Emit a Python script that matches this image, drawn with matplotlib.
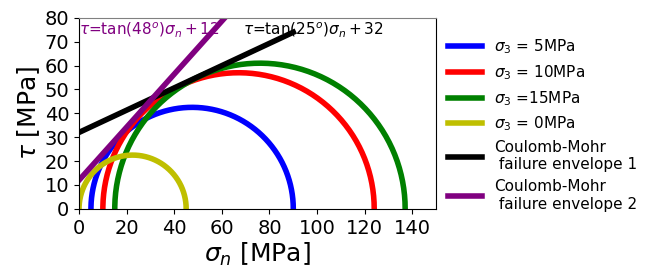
import numpy as np
import matplotlib.pyplot as plt

# confining / major principal stresses [MPa]
sigma3 = [5, 10, 15, 0]
sigma1 = [90, 124, 137, 45]
labels = ['$\\sigma_3$ = 5MPa', '$\\sigma_3$ = 10MPa', '$\\sigma_3$ =15MPa', '$\\sigma_3$ = 0MPa']
colors = ['b', 'r', 'g', 'y']

# Coulomb-Mohr envelopes: angle [deg], cohesion [MPa]
phi = [25, 48]
cohesion = [32, 12]
env_colors = ['k', 'purple']
env_labels = ['Coulomb-Mohr\n failure envelope 1', 'Coulomb-Mohr\n failure envelope 2']

fig = plt.figure(figsize=(6.48, 2.66), dpi=100)
ax = fig.add_axes([0.122, 0.215, 0.551, 0.718])

t = np.linspace(0, np.pi, 200)
for s3, s1, c, lab in zip(sigma3, sigma1, colors, labels):
    cen = (s1 + s3) / 2
    r = (s1 - s3) / 2
    ax.plot(cen + r * np.cos(t), r * np.sin(t), color=c, lw=4, label=lab)

sn = np.linspace(0, 90, 50)
for p, c0, c, lab in zip(phi, cohesion, env_colors, env_labels):
    ax.plot(sn, np.tan(np.radians(p)) * sn + c0, color=c, lw=4, label=lab)

ax.text(0, 73, '$\\tau$=tan(48$^o$)$\\sigma_n + 12$', color='purple', fontsize=11)
ax.text(69, 73, '$\\tau$=tan(25$^o$)$\\sigma_n + 32$', color='k', fontsize=11)

ax.set_xlim(0, 150)
ax.set_ylim(0, 80)
ax.set_xticks(np.arange(0, 141, 20))
ax.set_yticks(np.arange(0, 81, 10))
ax.tick_params(labelsize=14)
ax.set_xlabel('$\\sigma_n$ [MPa]', fontsize=18, labelpad=2)
ax.set_ylabel('$\\tau$ [MPa]', fontsize=18, labelpad=2)
ax.spines['top'].set_color('grey')

ax.legend(loc='center left', bbox_to_anchor=(0.995, 0.44), frameon=False, fontsize=11,
          handlelength=2.2, labelspacing=0.45)

fig.savefig('out.png', dpi=100)
